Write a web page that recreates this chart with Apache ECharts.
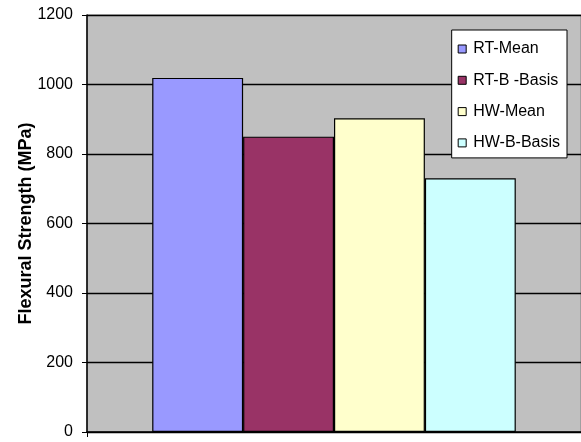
<!DOCTYPE html>
<html><head><meta charset="utf-8">
<script src="https://cdn.jsdelivr.net/npm/echarts@6/dist/echarts.min.js"></script>
<style>html,body{margin:0;padding:0;background:#fff}#c{width:581px;height:442px}</style>
</head><body><div id="c"></div>
<script>
const categories = [''];
const seriesNames = ['RT-Mean', 'RT-B -Basis', 'HW-Mean', 'HW-B-Basis'];
const seriesValues = [1019, 850, 903, 730];
const seriesColors = ['#9999FF', '#993366', '#FFFFCC', '#CCFFFF'];
const yTicks = [0, 200, 400, 600, 800, 1000, 1200];

const chart = echarts.init(document.getElementById('c'), null, {renderer: 'canvas'});
const font = 'Liberation Sans, Arial, sans-serif';
chart.setOption({
  animation: false,
  grid: {left: 87, right: 0, top: 15, bottom: 10, show: true, backgroundColor: '#C0C0C0', borderColor: '#808080', borderWidth: 1},
  legend: {
    orient: 'vertical', right: 14, top: 30,
    backgroundColor: '#FFFFFF', borderColor: '#000', borderWidth: 1,
    padding: [11, 7, 7, 6], itemGap: 15.3, itemWidth: 8, itemHeight: 8,
    icon: 'rect',
    textStyle: {fontFamily: font, fontSize: 16, lineHeight: 16, color: '#000', padding: [0, 0, 0, 2]},
    data: seriesNames.map((n, i) => ({name: n, itemStyle: {color: seriesColors[i], borderColor: '#000', borderWidth: 1}}))
  },
  xAxis: {
    type: 'category', data: categories,
    axisLine: {lineStyle: {color: '#000', width: 1.5}},
    axisTick: {show: true, length: 5, lineStyle: {color: '#000'}},
    axisLabel: {show: false}
  },
  yAxis: {
    type: 'value', min: yTicks[0], max: yTicks[yTicks.length - 1], interval: 200,
    name: 'Flexural Strength (MPa)', nameLocation: 'middle', nameGap: 52, nameMoveOverlap: false,
    nameTextStyle: {fontFamily: font, fontSize: 18, fontWeight: 'bold', color: '#000'},
    axisLine: {show: true, lineStyle: {color: '#000', width: 1.5}},
    axisTick: {show: true, length: 5, lineStyle: {color: '#000'}},
    axisLabel: {fontFamily: font, fontSize: 16, color: '#000', margin: 14, formatter: v => String(v)},
    splitLine: {show: true, lineStyle: {color: '#000', width: 1.3}}
  },
  series: seriesNames.map((n, i) => ({
    name: n, type: 'bar', barGap: '0%', barCategoryGap: '26.4%',
    data: [seriesValues[i]],
    itemStyle: {color: seriesColors[i], borderColor: '#000', borderWidth: 1.2}
  }))
});
</script></body></html>
